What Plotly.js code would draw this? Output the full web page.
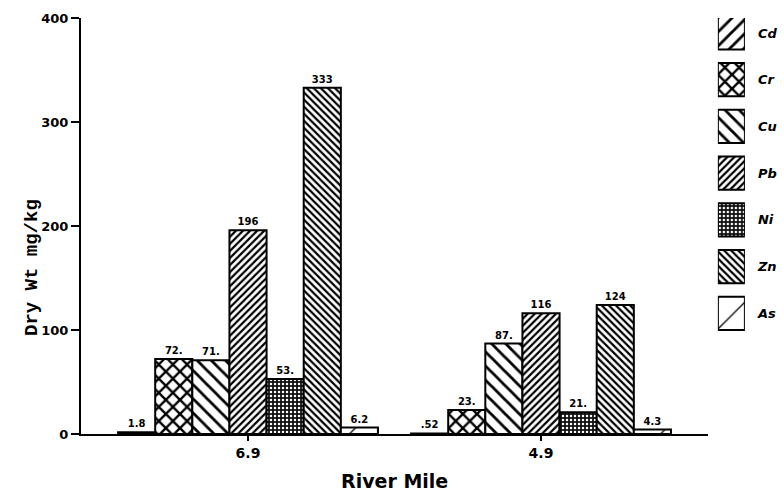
<!DOCTYPE html>
<html>
<head>
<meta charset="utf-8">
<script src="https://cdn.plot.ly/plotly-3.0.1.min.js"></script>
<style>html,body{margin:0;padding:0;background:#fff;}</style>
</head>
<body>
<div id="chart" style="width:784px;height:497px;"></div>
<script>
// ---- data ----
const riverMiles = ['6.9', '4.9'];
const metals = ['Cd', 'Cr', 'Cu', 'Pb', 'Ni', 'Zn', 'As'];
const Cd = [1.8, 0.52];
const Cr = [72, 23];
const Cu = [71, 87];
const Pb = [196, 116];
const Ni = [53, 21];
const Zn = [333, 124];
const As = [6.2, 4.3];
const labelsCd = ['1.8', '.52'];
const labelsCr = ['72.', '23.'];
const labelsCu = ['71.', '87.'];
const labelsPb = ['196', '116'];
const labelsNi = ['53.', '21.'];
const labelsZn = ['333', '124'];
const labelsAs = ['6.2', '4.3'];
const yTicks = [0, 100, 200, 300, 400];

// ---- styles ----
const patterns = {
  Cd: {shape: '/', size: 10, solidity: 0.28, fg: '#000', bg: '#fff'},
  Cr: {shape: 'x', size: 10, solidity: 0.42, fg: '#000', bg: '#fff'},
  Cu: {shape: '\\', size: 10, solidity: 0.28, fg: '#000', bg: '#fff'},
  Pb: {shape: '/', size: 5, solidity: 0.45, fg: '#000', bg: '#fff'},
  Ni: {shape: '.', size: 4, solidity: 0.3, fg: '#fff', bg: '#111'},
  Zn: {shape: '\\', size: 5, solidity: 0.45, fg: '#000', bg: '#fff'},
  As: {shape: '/', size: 22, solidity: 0.06, fg: '#000', bg: '#fff'}
};
const series = {Cd, Cr, Cu, Pb, Ni, Zn, As};
const labels = {Cd: labelsCd, Cr: labelsCr, Cu: labelsCu, Pb: labelsPb, Ni: labelsNi, Zn: labelsZn, As: labelsAs};

function markerFor(m) {
  return {
    color: patterns[m].bg,
    line: {color: '#000', width: 2},
    pattern: {shape: patterns[m].shape, size: patterns[m].size, solidity: patterns[m].solidity,
              fgcolor: patterns[m].fg, bgcolor: patterns[m].bg, fgopacity: 1, fillmode: 'replace'}
  };
}

const traces = metals.map(m => ({
  type: 'bar',
  name: m,
  x: riverMiles,
  y: series[m],
  text: labels[m],
  textposition: 'outside',
  cliponaxis: false,
  textfont: {family: 'DejaVu Sans', size: 10, weight: 'bold', color: '#000'},
  marker: markerFor(m),
  showlegend: false,
  hoverinfo: 'skip'
}));

// legend drawn as a small subplot of swatches (one swatch per metal)
metals.forEach(m => {
  traces.push({
    type: 'bar',
    orientation: 'h',
    x: [1],
    y: [m],
    xaxis: 'x2',
    yaxis: 'y2',
    width: 0.71,
    offsetgroup: 'legend',
    marker: markerFor(m),
    showlegend: false,
    hoverinfo: 'skip'
  });
});

const layout = {
  width: 784,
  height: 497,
  margin: {l: 81, r: 10, t: 18, b: 63},
  paper_bgcolor: '#fff',
  plot_bgcolor: '#fff',
  barmode: 'group',
  bargap: 0.113,
  bargroupgap: 0,
  showlegend: false,
  xaxis: {
    type: 'category',
    domain: [0, 0.9048],
    range: [-0.57, 1.57],
    showline: true, linecolor: '#000', linewidth: 2,
    ticks: 'outside', ticklen: 5, tickwidth: 1.5, tickcolor: '#000',
    tickfont: {family: 'DejaVu Sans', size: 14, weight: 'bold', color: '#000'},
    showgrid: false, zeroline: false, fixedrange: true
  },
  yaxis: {
    range: [0, 400],
    tickvals: yTicks,
    showline: true, linecolor: '#000', linewidth: 2,
    ticks: 'outside', ticklen: 8, tickwidth: 1.5, tickcolor: '#000',
    tickfont: {family: 'DejaVu Sans', size: 13, weight: 'bold', color: '#000'},
    showgrid: false, zeroline: false, fixedrange: true
  },
  xaxis2: {
    domain: [0.919, 0.958],
    anchor: 'y2',
    range: [0, 1],
    visible: false, fixedrange: true
  },
  yaxis2: {
    domain: [0.226, 1],
    anchor: 'x2',
    type: 'category',
    categoryorder: 'array',
    categoryarray: metals,
    range: [6.57, -0.32],
    side: 'right',
    showline: false, showgrid: false, zeroline: false, ticks: '',
    ticklabelstandoff: 12,
    tickfont: {family: 'DejaVu Sans', size: 13, weight: 'bold', style: 'italic', color: '#000'},
    fixedrange: true
  },
  annotations: [
    {text: 'Dry Wt mg/kg', xref: 'paper', yref: 'paper', x: -0.0707, y: 0.399, textangle: -90,
     showarrow: false, xanchor: 'center', yanchor: 'middle',
     font: {family: 'Liberation Mono', size: 19, weight: 'bold', color: '#000'}},
    {text: 'River Mile', xref: 'paper', yref: 'paper', x: 0.4524, y: -0.113,
     showarrow: false, xanchor: 'center', yanchor: 'middle',
     font: {family: 'DejaVu Sans', size: 19, weight: 'bold', color: '#000'}}
  ]
};

Plotly.newPlot('chart', traces, layout, {displayModeBar: false, staticPlot: true});
</script>
</body>
</html>
